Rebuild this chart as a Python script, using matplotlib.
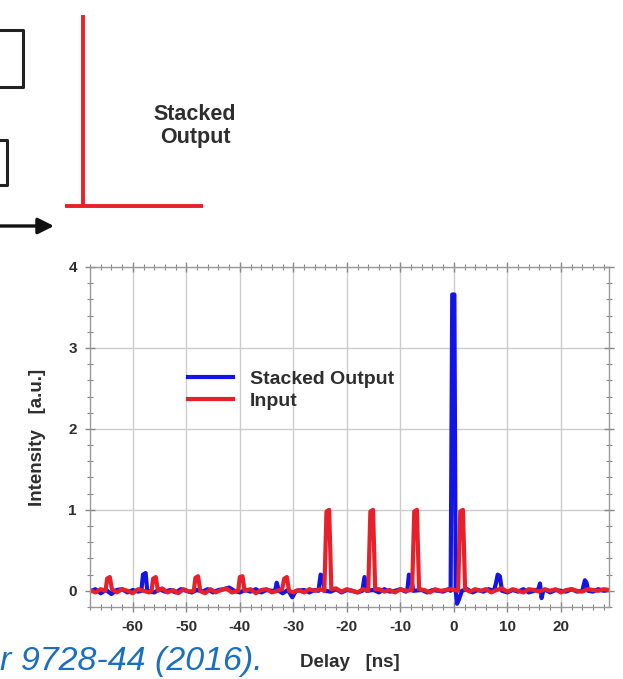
import matplotlib
matplotlib.use("Agg")
import matplotlib.pyplot as plt
from matplotlib.ticker import MultipleLocator
from matplotlib.patches import FancyArrowPatch

# ===============================
# 数据
# ===============================
red_delay = [
    -68, -67, -66, -65.1, -64.8, -64.3, -63.9, -63, -62, -61, -60, -59, -58, -57,
    -56.5, -56.2, -55.7, -55.3, -54.5, -53.5, -52.5, -51.5, -50.5, -49.5, -48.6,
    -48.3, -47.8, -47.4, -46.5, -45.5, -44.5, -43.5, -42.5, -41.5, -40.3,
    -40.0, -39.5, -39.1, -38, -37, -36, -35, -34, -33, -32.1,
    -31.7, -31.2, -30.8, -30, -29, -28, -27, -26, -25, -24.2,
    -23.8, -23.3, -22.9, -22, -21, -20, -19, -18, -17, -16.0,
    -15.6, -15.1, -14.7, -14, -13, -12, -11, -10, -9, -7.8,
    -7.4, -6.9, -6.5, -5.5, -4.5, -3.5, -2.5, -1.5, -0.5, 0.8,
    1.2, 1.7, 2.1,
    3, 4, 5, 6, 7, 8, 9, 10, 11, 12, 13, 14, 15, 16,
    17, 18, 19, 20, 21, 22, 23, 24, 25, 26, 27, 28, 29,
]
red_intensity = [
    0.01, -0.02, 0.02, 0.0, 0.15, 0.17, 0.02, -0.02, 0.02, 0.0, -0.03, 0.02, 0.0, -0.02,
    0.0, 0.15, 0.17, 0.0, 0.03, -0.02, 0.01, -0.03, 0.02, -0.01, 0.0,
    0.16, 0.18, 0.0, -0.03, 0.02, -0.02, 0.01, 0.03, -0.02, 0.0,
    0.17, 0.18, 0.0, 0.02, -0.03, 0.01, 0.02, -0.02, 0.0, 0.02,
    0.15, 0.17, 0.0, -0.02, 0.01, -0.02, 0.02, 0.0, 0.02, 0.0,
    0.98, 1.0, 0.02, 0.03, -0.01, 0.02, 0.0, -0.02, 0.02, 0.0,
    0.98, 1.0, 0.02, 0.02, -0.01, 0.01, -0.02, 0.02, 0.0, 0.01,
    0.98, 1.0, 0.02, 0.01, -0.02, 0.02, 0.0, 0.01, 0.02, 0.0,
    0.98, 1.0, 0.02,
    -0.01, 0.02, 0.0, 0.02, -0.02, 0.01, 0.03, -0.01, 0.02, 0.0, -0.02, 0.02, 0.01, -0.01,
    0.02, 0.0, 0.02, -0.02, 0.01, 0.02, 0.0, -0.01, 0.02, 0.01, 0.0, 0.02, 0.01,
]

blue_delay = [
    -68, -67, -66, -65, -64, -63, -62, -61, -60, -59, -58.4, -58.1, -57.6, -57.3,
    -56, -55, -54, -53, -52, -51, -50, -49, -48, -47, -46, -45, -44, -43, -42,
    -41, -40, -39, -38, -37, -36, -35, -34, -33.4, -33.1, -32.7, -32, -31, -30.2,
    -29.5, -28, -27, -26, -25.3, -24.9, -24.5, -24.2, -23, -22, -21, -20, -19, -18,
    -17.1, -16.7, -16.3, -15, -14, -13, -12, -11, -10, -9, -8.7, -8.4, -8.0, -7.6,
    -6, -5, -4, -3, -2, -1, -0.6, -0.3, 0.1, 0.35, 0.6, 1.0, 1.5, 2.5, 3.5, 4.5,
    5.5, 6.5, 7.5, 7.9, 8.2, 8.6, 9.0, 10, 11, 12, 13, 14, 15, 15.8, 16.1, 16.4,
    16.7, 17.2, 18, 19, 20, 21, 22, 23, 24, 24.5, 24.8, 25.1, 26, 27, 28, 29,
]
blue_intensity = [
    -0.01, 0.02, -0.03, 0.01, -0.04, 0.01, 0.02, -0.02, 0.01, -0.01, 0.0, 0.2, 0.22, 0.0,
    -0.02, 0.02, -0.01, 0.01, -0.02, 0.02, 0.0, -0.02, 0.01, -0.01, 0.02, -0.02, 0.01, 0.02, 0.04,
    0.0, -0.02, 0.01, -0.01, 0.02, -0.02, 0.01, 0.0, 0.0, 0.1, 0.0, -0.03, 0.01, -0.08,
    0.0, 0.01, -0.02, 0.01, 0.0, 0.2, 0.18, 0.0, -0.01, 0.02, -0.02, 0.01, 0.0, -0.02,
    0.0, 0.17, 0.0, 0.01, -0.02, 0.02, -0.01, 0.0, 0.02, -0.01, 0.0, 0.2, 0.18, 0.0,
    0.01, -0.02, 0.01, 0.0, -0.01, 0.02, 0.0, 3.66, 3.66, 0.0, -0.16, -0.1, 0.0, 0.02, -0.02, 0.01,
    -0.01, 0.02, 0.0, 0.1, 0.2, 0.18, 0.0, -0.02, 0.01, -0.01, 0.02, -0.02, 0.0, 0.02, 0.09, -0.09,
    0.0, 0.01, -0.02, 0.01, 0.0, -0.01, 0.02, -0.01, 0.0, 0.13, 0.1, 0.0, -0.01, 0.02, 0.0, 0.01,
]

x_ticks = [-60, -50, -40, -30, -20, -10, 0, 10, 20]
y_ticks = [0, 1, 2, 3, 4]

# ===============================
# 画布
# ===============================
W, H = 623, 679
plt.rcParams["font.family"] = ["Liberation Sans", "DejaVu Sans"]
plt.rcParams["axes.unicode_minus"] = False
fig = plt.figure(figsize=(W / 100, H / 100), dpi=100)

RED = "#e8202a"
BLUE = "#1414e6"
TXT = "#2e2e2e"

def px(x, y):
    return x / W, 1 - y / H

# 上部示意图（像素坐标）
over = fig.add_axes([0, 0, 1, 1], facecolor="none")
over.set_xlim(0, W)
over.set_ylim(H, 0)
over.axis("off")

# 左侧截断的方框
over.plot([-5, 23, 23, -5], [30, 30, 87, 87], color="#222222", lw=2.2)
over.plot([-5, 7, 7, -5], [140, 140, 185, 185], color="#222222", lw=2.2)
over.add_patch(FancyArrowPatch((0, 226), (54, 226), arrowstyle="-|>",
                               mutation_scale=24, color="#111111", lw=2.4,
                               shrinkA=0, shrinkB=0))

# 红色 L 形
over.plot([83, 83], [15, 206], color=RED, lw=2.8, solid_capstyle="butt")
over.plot([65, 203], [206, 206], color=RED, lw=2.8, solid_capstyle="butt")
over.text(195, 126, "Stacked\nOutput", ha="center", va="center",
          fontsize=15.5, fontweight="bold", color=TXT, linespacing=1.1)

# 引用
over.text(0, 670, "r 9728-44 (2016).", ha="left", va="baseline",
          fontsize=24.5, style="italic", color="#1b6fc2")

# ===============================
# 主图
# ===============================
l, b = px(90, 607)
r, t = px(609, 267)
ax = fig.add_axes([l, b, r - l, t - b])

ax.plot(blue_delay, blue_intensity, color=BLUE, lw=3.0, label="Stacked Output")
ax.plot(red_delay, red_intensity, color=RED, lw=3.0, label="Input")

ax.set_xlim(-68, 29)
ax.set_ylim(-0.2, 4)
ax.set_xticks(x_ticks)
ax.set_yticks(y_ticks)
ax.xaxis.set_minor_locator(MultipleLocator(2))
ax.yaxis.set_minor_locator(MultipleLocator(0.2))
ax.grid(True, which="major", color="#cccccc", lw=1.0)
ax.set_axisbelow(True)

ax.tick_params(which="both", direction="inout", top=True, right=True,
               color="#888888", labelsize=11, labelcolor=TXT)
ax.tick_params(which="major", length=7, width=1, pad=6)
ax.tick_params(which="minor", length=5, width=0.8)
for lab in ax.get_xticklabels() + ax.get_yticklabels():
    lab.set_fontweight("bold")
for sp in ax.spines.values():
    sp.set_color("#999999")
    sp.set_linewidth(1.0)

ax.set_xlabel("Delay   [ns]", fontsize=13.5, fontweight="bold", color=TXT, labelpad=14)
ax.set_ylabel("Intensity   [a.u.]", fontsize=13.5, fontweight="bold", color=TXT, labelpad=16)

leg = ax.legend(loc="center left", bbox_to_anchor=(0.155, 0.638), frameon=False,
                handlelength=2.3, handletextpad=0.9, labelspacing=0.25,
                prop={"weight": "bold", "size": 14})
for txt in leg.get_texts():
    txt.set_color(TXT)
for ln in leg.get_lines():
    ln.set_linewidth(3.0)

fig.savefig("out.png", dpi=100)
